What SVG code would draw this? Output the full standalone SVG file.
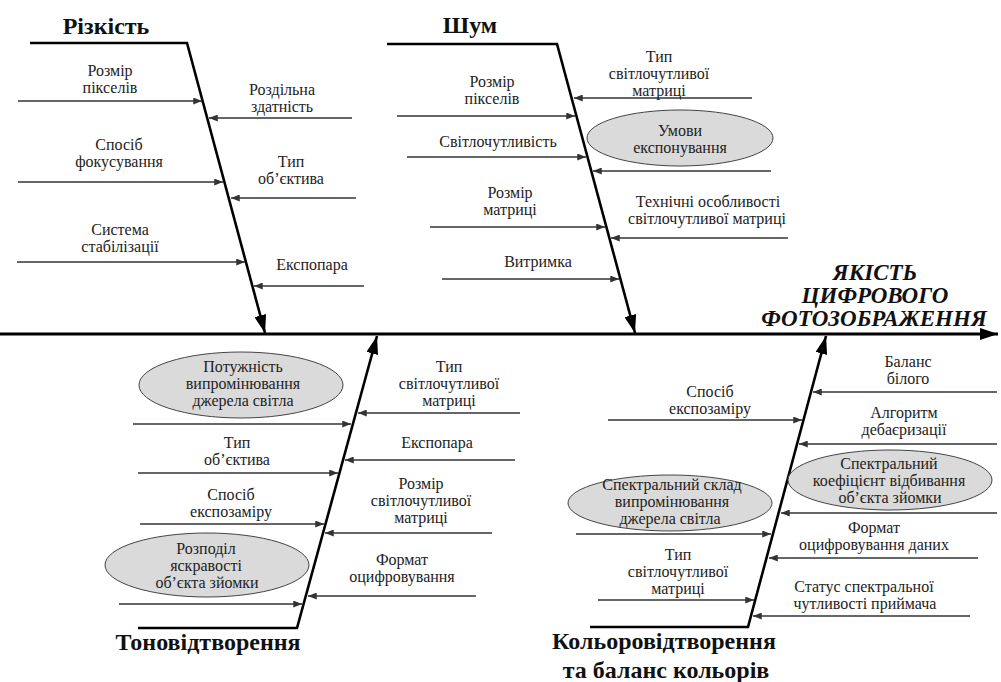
<svg xmlns="http://www.w3.org/2000/svg" width="1001" height="682" viewBox="0 0 1001 682" font-family="Liberation Serif">
<defs>
<marker id="sa" viewBox="0 0 10 8" refX="10" refY="4" markerWidth="9" markerHeight="7" markerUnits="userSpaceOnUse" orient="auto"><path d="M0,0 L10,4 L0,8 Z" fill="#333"/></marker>
<marker id="ba" viewBox="0 0 18 12" refX="18" refY="6" markerWidth="18" markerHeight="12" markerUnits="userSpaceOnUse" orient="auto"><path d="M0,0 L18,6 L0,12 Z" fill="#000"/></marker>
</defs>
<rect width="1001" height="682" fill="#fff"/>

<g id="connectors" fill="none">
<g stroke="#000" stroke-width="2.6" marker-end="url(#ba)">
<line x1="0" y1="334" x2="998" y2="334" stroke-width="3"/>
<path d="M30,43 H187 L265,333"/>
<path d="M387,44 H557 L635,333"/>
<path d="M138,628 H297 L377,336"/>
<path d="M590,627 H748 L826,336"/>
</g>
<g stroke="#333" stroke-width="1.4" marker-end="url(#sa)">
<line x1="18" y1="101" x2="202" y2="101"/>
<line x1="352" y1="118" x2="209" y2="118"/>
<line x1="18" y1="182" x2="223" y2="182"/>
<line x1="356" y1="198" x2="231" y2="198"/>
<line x1="17" y1="262" x2="245" y2="262"/>
<line x1="364" y1="286" x2="254" y2="286"/>
<line x1="397" y1="116" x2="575" y2="116"/>
<line x1="752" y1="98" x2="574" y2="98"/>
<line x1="407" y1="157" x2="586" y2="157"/>
<line x1="771" y1="171" x2="593" y2="171"/>
<line x1="430" y1="227" x2="605" y2="227"/>
<line x1="788" y1="238" x2="611" y2="238"/>
<line x1="442" y1="279" x2="619" y2="279"/>
<line x1="133" y1="424" x2="351" y2="424"/>
<line x1="520" y1="413" x2="358" y2="413"/>
<line x1="138" y1="473" x2="338" y2="473"/>
<line x1="515" y1="460" x2="345" y2="460"/>
<line x1="140" y1="524" x2="324" y2="524"/>
<line x1="492" y1="533" x2="325" y2="533"/>
<line x1="119" y1="604" x2="302" y2="604"/>
<line x1="476" y1="596" x2="308" y2="596"/>
<line x1="608" y1="420" x2="802" y2="420"/>
<line x1="997" y1="392" x2="813" y2="392"/>
<line x1="997" y1="444" x2="799" y2="444"/>
<line x1="997" y1="513" x2="781" y2="513"/>
<line x1="576" y1="534" x2="771" y2="534"/>
<line x1="978" y1="558" x2="769" y2="558"/>
<line x1="598" y1="600" x2="754" y2="600"/>
<line x1="970" y1="616" x2="753" y2="616"/>
</g>
</g>

<g id="effect" font-size="23" font-weight="bold" font-style="italic" fill="#111" text-anchor="middle">
<text font-family="Times New Roman" x="875" y="280">ЯКІСТЬ</text>
<text font-family="Times New Roman" x="875" y="303">ЦИФРОВОГО</text>
<text font-family="Times New Roman" x="874" y="326">ФОТОЗОБРАЖЕННЯ</text>
</g>

<g id="rizkist" font-size="16" fill="#222" text-anchor="middle">
<text font-family="Times New Roman" font-size="24" font-weight="bold" fill="#111" x="106" y="34">Різкість</text>
<text font-family="Times New Roman" x="110" y="76">Розмір</text>
<text font-family="Times New Roman" x="110" y="93">пікселів</text>
<text font-family="Times New Roman" x="282" y="95">Роздільна</text>
<text font-family="Times New Roman" x="282" y="112">здатність</text>
<text font-family="Times New Roman" x="119" y="150">Спосіб</text>
<text font-family="Times New Roman" x="119" y="167">фокусування</text>
<text font-family="Times New Roman" x="291" y="167">Тип</text>
<text font-family="Times New Roman" x="291" y="184">об’єктива</text>
<text font-family="Times New Roman" x="120" y="235">Система</text>
<text font-family="Times New Roman" x="120" y="252">стабілізації</text>
<text font-family="Times New Roman" x="312" y="270">Експопара</text>
</g>

<g id="shum" font-size="16" fill="#222" text-anchor="middle">
<text font-family="Times New Roman" font-size="24" font-weight="bold" fill="#111" x="470" y="33">Шум</text>
<text font-family="Times New Roman" x="492" y="87">Розмір</text>
<text font-family="Times New Roman" x="492" y="104">пікселів</text>
<text font-family="Times New Roman" x="498" y="147">Світлочутливість</text>
<text font-family="Times New Roman" x="510" y="198">Розмір</text>
<text font-family="Times New Roman" x="510" y="215">матриці</text>
<text font-family="Times New Roman" x="538" y="267">Витримка</text>
<text font-family="Times New Roman" x="659" y="62">Тип</text>
<text font-family="Times New Roman" x="659" y="79">світлочутливої</text>
<text font-family="Times New Roman" x="659" y="96">матриці</text>
<ellipse cx="680" cy="138" rx="93" ry="28" fill="#dadada" stroke="#444" stroke-width="1"/>
<text font-family="Times New Roman" x="680" y="136">Умови</text>
<text font-family="Times New Roman" x="680" y="153">експонування</text>
<text font-family="Times New Roman" x="708" y="207">Технічні особливості</text>
<text font-family="Times New Roman" x="707" y="224">світлочутливої матриці</text>
</g>

<g id="tonovidtvorennia" font-size="16" fill="#222" text-anchor="middle">
<text font-family="Times New Roman" font-size="24" font-weight="bold" fill="#111" x="208" y="650">Тоновідтворення</text>
<ellipse cx="241" cy="385" rx="102" ry="33" fill="#dadada" stroke="#444" stroke-width="1"/>
<text font-family="Times New Roman" x="243" y="372">Потужність</text>
<text font-family="Times New Roman" x="243" y="389">випромінювання</text>
<text font-family="Times New Roman" x="243" y="406">джерела світла</text>
<text font-family="Times New Roman" x="237" y="448">Тип</text>
<text font-family="Times New Roman" x="237" y="465">об’єктива</text>
<text font-family="Times New Roman" x="231" y="500">Спосіб</text>
<text font-family="Times New Roman" x="231" y="517">експозаміру</text>
<ellipse cx="207" cy="565" rx="102" ry="32" fill="#dadada" stroke="#444" stroke-width="1"/>
<text font-family="Times New Roman" x="206" y="554">Розподіл</text>
<text font-family="Times New Roman" x="206" y="571">яскравості</text>
<text font-family="Times New Roman" x="207" y="588">об’єкта зйомки</text>
<text font-family="Times New Roman" x="449" y="372">Тип</text>
<text font-family="Times New Roman" x="449" y="389">світлочутливої</text>
<text font-family="Times New Roman" x="449" y="406">матриці</text>
<text font-family="Times New Roman" x="437" y="448">Експопара</text>
<text font-family="Times New Roman" x="421" y="489">Розмір</text>
<text font-family="Times New Roman" x="421" y="506">світлочутливої</text>
<text font-family="Times New Roman" x="421" y="523">матриці</text>
<text font-family="Times New Roman" x="402" y="565">Формат</text>
<text font-family="Times New Roman" x="402" y="582">оцифровування</text>
</g>

<g id="kolorovidtvorennia" font-size="16" fill="#222" text-anchor="middle">
<text font-family="Times New Roman" font-size="24" font-weight="bold" fill="#111" x="664" y="649">Кольоровідтворення</text>
<text font-family="Times New Roman" font-size="24" font-weight="bold" fill="#111" x="666" y="678">та баланс кольорів</text>
<text font-family="Times New Roman" x="710" y="397">Спосіб</text>
<text font-family="Times New Roman" x="710" y="414">експозаміру</text>
<ellipse cx="670" cy="503" rx="102" ry="28" fill="#dadada" stroke="#444" stroke-width="1"/>
<text font-family="Times New Roman" x="672" y="490">Спектральний склад</text>
<text font-family="Times New Roman" x="672" y="507">випромінювання</text>
<text font-family="Times New Roman" x="670" y="524">джерела світла</text>
<text font-family="Times New Roman" x="678" y="560">Тип</text>
<text font-family="Times New Roman" x="678" y="577">світлочутливої</text>
<text font-family="Times New Roman" x="678" y="594">матриці</text>
<text font-family="Times New Roman" x="908" y="367">Баланс</text>
<text font-family="Times New Roman" x="908" y="384">білого</text>
<text font-family="Times New Roman" x="904" y="418">Алгоритм</text>
<text font-family="Times New Roman" x="904" y="435">дебаєризації</text>
<ellipse cx="890" cy="480" rx="102" ry="30" fill="#dadada" stroke="#444" stroke-width="1"/>
<text font-family="Times New Roman" x="889" y="469">Спектральний</text>
<text font-family="Times New Roman" x="889" y="486">коефіцієнт відбивання</text>
<text font-family="Times New Roman" x="890" y="503">об’єкта зйомки</text>
<text font-family="Times New Roman" x="874" y="533">Формат</text>
<text font-family="Times New Roman" x="874" y="550">оцифровування даних</text>
<text font-family="Times New Roman" x="864" y="592">Статус спектральної</text>
<text font-family="Times New Roman" x="865" y="609">чутливості приймача</text>
</g>
</svg>
